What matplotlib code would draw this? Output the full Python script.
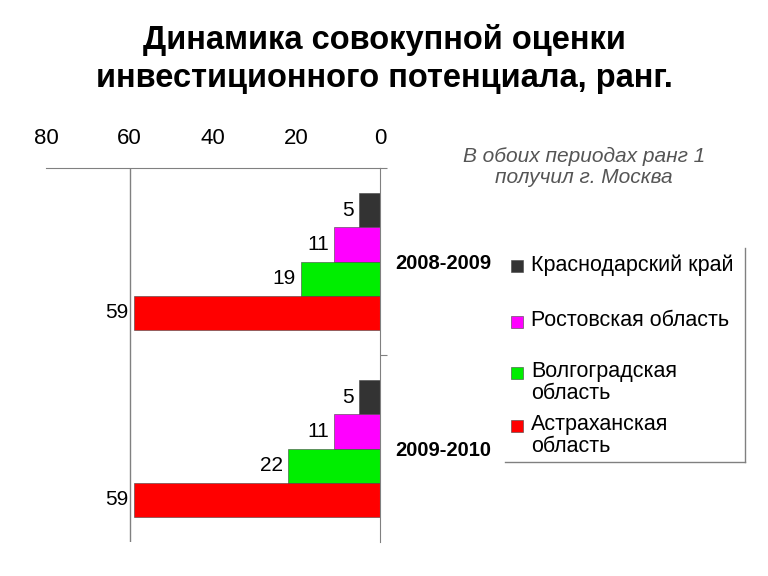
import matplotlib
matplotlib.use("Agg")
import matplotlib.pyplot as plt
from matplotlib.lines import Line2D
from matplotlib.patches import Rectangle

plt.rcParams["font.family"] = ["Liberation Sans", "DejaVu Sans"]

periods = ["2008-2009", "2009-2010"]
regions = ["Краснодарский край", "Ростовская область",
           "Волгоградская\nобласть", "Астраханская\nобласть"]
colors = ["#333333", "#ff00ff", "#00ee00", "#ff0000"]
ranks = {
    "2008-2009": [5, 11, 19, 59],
    "2009-2010": [5, 11, 22, 59],
}
xticks = [80, 60, 40, 20, 0]

BAR_H = 0.182
GRAY = "#808080"

fig = plt.figure(figsize=(7.68, 5.76), dpi=100)
ax = fig.add_axes([0.0599, 0.059, 0.4349, 0.6493])

for p, period in enumerate(periods):
    for i, val in enumerate(ranks[period]):
        y = p + (i - 1.5) * BAR_H
        ax.barh(y, val, height=BAR_H, color=colors[i], edgecolor="#444444", linewidth=0.4)
        ax.text(val + 1.2, y, str(val), ha="right", va="center", fontsize=15, color="black")

ax.set_xlim(80, 0)
ax.set_ylim(1.5, -0.5)
ax.axvline(60, color=GRAY, linewidth=1)

for side in ["left", "bottom"]:
    ax.spines[side].set_visible(False)
ax.spines["top"].set_color(GRAY)
ax.spines["right"].set_color(GRAY)

ax.xaxis.tick_top()
ax.set_xticks(xticks)
ax.set_xticklabels([str(t) for t in xticks])
ax.tick_params(axis="x", length=0, pad=14, labelsize=16)

ax.yaxis.tick_right()
ax.set_yticks([-0.5, 0.5])
ax.set_yticklabels([])
ax.set_yticks([0, 1], minor=True)
ax.set_yticklabels(periods, minor=True)
ax.tick_params(axis="y", which="major", length=5, color=GRAY, direction="out")
ax.tick_params(axis="y", which="minor", length=0, pad=11, labelsize=14.5)
for lbl in ax.get_yticklabels(minor=True):
    lbl.set_fontweight("bold")

# legend drawn by hand so two-line labels hang from the first line
leg_tops = [254, 310, 361, 414]
for i, name in enumerate(regions):
    ytop = 1 - leg_tops[i] / 576
    fig.patches.append(Rectangle((511 / 768, ytop - 18 / 576), 12 / 768, 12 / 576,
                                 transform=fig.transFigure, facecolor=colors[i],
                                 edgecolor="#444444", linewidth=0.4))
    fig.text(531 / 768, ytop, name, ha="left", va="top", fontsize=15.5, linespacing=1.05)

fig.add_artist(Line2D([745 / 768, 745 / 768], [1 - 248 / 576, 1 - 462 / 576], color=GRAY, linewidth=1))
fig.add_artist(Line2D([505 / 768, 745 / 768], [1 - 462 / 576, 1 - 462 / 576], color=GRAY, linewidth=1))

fig.text(584 / 768, 1 - 167 / 576, "В обоих периодах ранг 1\nполучил г. Москва",
         ha="center", va="center", style="italic", color="#555555", fontsize=15, linespacing=1.15)

fig.text(0.5, 1 - 59 / 576, "Динамика совокупной оценки\nинвестиционного потенциала, ранг.",
         ha="center", va="center", fontweight="bold", fontsize=23.5, linespacing=1.3)

fig.savefig("out.png", dpi=100)
